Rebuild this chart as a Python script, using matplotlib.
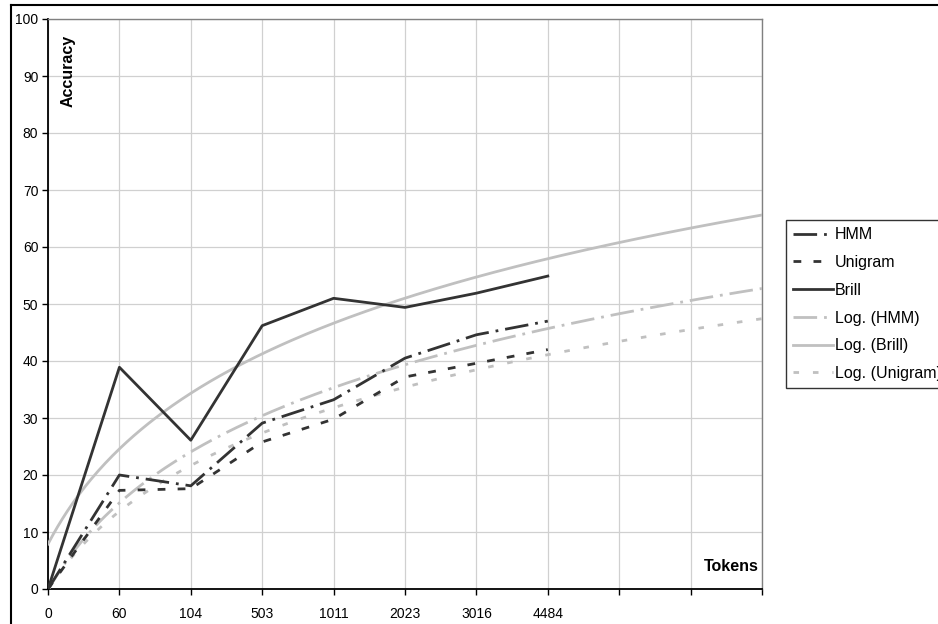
import numpy as np
import matplotlib.pyplot as plt
from matplotlib.lines import Line2D

plt.rcParams['font.family'] = ['Liberation Sans', 'DejaVu Sans']

# training sizes (tokens) and tagger accuracy
tokens = ['0', '60', '104', '503', '1011', '2023', '3016', '4484']
n_extra = 3  # empty categories the trend lines run into
hmm = [0, 20.0, 18.1, 29.1, 33.2, 40.5, 44.6, 47.0]
unigram = [0, 17.3, 17.6, 25.8, 29.8, 37.2, 39.6, 42.0]
brill = [0, 38.9, 26.1, 46.2, 51.0, 49.4, 51.9, 54.9]

dark = '#333333'
light = '#c0c0c0'
long_dash_dot = (0, (8.5, 2.5, 1, 2.5))
dash = (0, (2.8, 4.4))
dot = (0, (2, 5))


def log_trend(values, n_total):
    """Least squares fit y = a*ln(i) + b over i = 1..n, evaluated out to n_total."""
    idx = np.arange(1, len(values) + 1)
    a, b = np.polyfit(np.log(idx), values, 1)
    t = np.linspace(1, n_total, 300)
    return t - 1, a * np.log(t) + b


fig = plt.figure(figsize=(9.38, 6.24), dpi=100)
ax = fig.add_axes([48 / 938, 1 - 589 / 624, (762 - 48) / 938, (589 - 19) / 624])

n_total = len(tokens) + n_extra
x = np.arange(len(tokens))

lw = 2.0
ax.plot(x, hmm, color=dark, lw=lw, linestyle=long_dash_dot, label='HMM', zorder=4)
ax.plot(x, unigram, color=dark, lw=lw, linestyle=dash, label='Unigram', zorder=4)
ax.plot(x, brill, color=dark, lw=lw, linestyle='-', label='Brill', zorder=4)

tx, ty = log_trend(hmm, n_total)
ax.plot(tx, ty, color=light, lw=lw, linestyle=long_dash_dot, label='Log. (HMM)', zorder=3)
tx, ty = log_trend(brill, n_total)
ax.plot(tx, ty, color=light, lw=lw, linestyle='-', label='Log. (Brill)', zorder=3)
tx, ty = log_trend(unigram, n_total)
ax.plot(tx, ty, color=light, lw=lw, linestyle=dot, label='Log. (Unigram)', zorder=3)

ax.set_xlim(0, n_total - 1)
ax.set_ylim(0, 100)
ax.set_xticks(np.arange(n_total))
ax.set_xticklabels(tokens + [''] * n_extra)
ax.set_yticks(np.arange(0, 101, 10))
ax.grid(True, color='#d0d0d0', lw=0.9)
ax.set_axisbelow(True)

for side in ['top', 'right']:
    ax.spines[side].set_color('#808080')
    ax.spines[side].set_linewidth(1.0)
for side in ['left', 'bottom']:
    ax.spines[side].set_color('black')
    ax.spines[side].set_linewidth(1.3)

ax.tick_params(axis='both', labelsize=10, length=4, width=1.0, color='black')
ax.tick_params(axis='y', pad=3)
ax.tick_params(axis='x', pad=9)

fig.text(68 / 938, 1 - 71 / 624, 'Accuracy', rotation=90, fontsize=11.5,
         fontweight='bold', ha='center', va='center')
ax.text(0.995, 0.04, 'Tokens', transform=ax.transAxes, fontsize=11.5,
        fontweight='bold', ha='right', va='center')

leg = fig.legend(loc='upper left', bbox_to_anchor=(786 / 938, 1 - 220 / 624),
                 fontsize=11.5, frameon=True, fancybox=False, edgecolor='black',
                 handlelength=2.5, handletextpad=0.1, labelspacing=0.8,
                 borderpad=0.45, borderaxespad=0)
leg.get_frame().set_linewidth(1.0)

# outer chart border
fig.add_artist(Line2D([11 / 938, 11 / 938], [0, 1 - 5 / 624], color='black', lw=1.5))
fig.add_artist(Line2D([11 / 938, 1], [1 - 5 / 624, 1 - 5 / 624], color='black', lw=1.5))

fig.savefig('out.png', dpi=100)
